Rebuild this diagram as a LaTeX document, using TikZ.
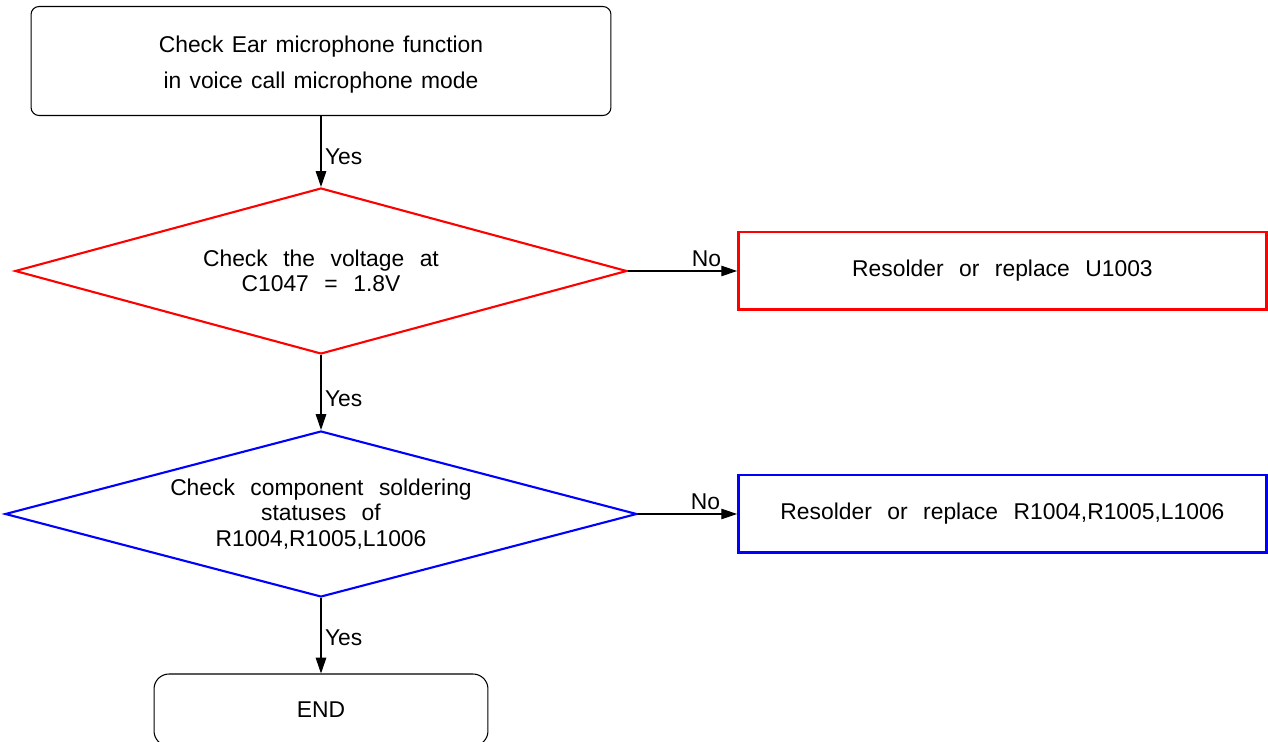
\documentclass[tikz,border=0pt]{standalone}
\usepackage{fontspec}
\setmainfont{Liberation Sans}
\usetikzlibrary{shapes.geometric, arrows.meta, positioning}
\newcommand{\wordgap}{\spaceskip=0.68em plus 0.1em\relax}
\newcommand{\narrowgap}{\spaceskip=0.36em plus 0.1em\relax}

\begin{document}
\begin{tikzpicture}[
        x=0.02cm, y=-0.02cm,
        txt/.style={font=\fontsize{13}{14.5}\selectfont, align=center, execute at begin node=\wordgap},
        startbox/.style={txt, rectangle, draw=black, line width=0.6pt, rounded corners=0.16cm, minimum width=11.6cm, minimum height=2.18cm, execute at begin node=\narrowgap},
        endbox/.style={txt, rectangle, draw=black, line width=0.6pt, rounded corners=0.3cm, minimum width=6.68cm, minimum height=1.44cm},
        checkbox/.style={txt, diamond, aspect=3.7, inner sep=0pt, line width=1.2pt, minimum height=3.32cm},
        fixbox/.style={txt, rectangle, line width=1.7pt, minimum width=10.56cm, minimum height=1.56cm},
        arrow/.style={-{Triangle[length=9pt, width=6pt]}, line width=0.6pt, draw=black},
        yeslabel/.style={txt, right, pos=0.58, inner sep=2pt},
        nolabel/.style={txt, above, pos=0.72, inner sep=2pt}
    ]
    \useasboundingbox (0,0) rectangle (1268,742);

    % The Check Boxes
    \node (start) [startbox] at (321,61) {\rule{0pt}{14pt}Check Ear microphone function\\[6pt] in voice call microphone mode};
    \node (volt) [checkbox, draw=red, minimum width=12.24cm] at (321,271) {Check the voltage at\\ C1047 = 1.8V};
    \node (solder) [checkbox, draw=blue, minimum width=12.64cm] at (321,514) {Check component soldering\\ statuses of\\ R1004,R1005,L1006};
    \node (finish) [endbox] at (321,710) {END};

    % The Repair Boxes
    \node (fixu) [fixbox, draw=red] at (1002.5,271) {Resolder or replace U1003};
    \node (fixr) [fixbox, draw=blue] at (1002.5,514) {Resolder or replace R1004,R1005,L1006};

    % The Arrows
    \draw [arrow] (start) -- node[yeslabel] {Yes} (volt);
    \draw [arrow] (volt) -- node[yeslabel] {Yes} (solder);
    \draw [arrow] (solder) -- node[yeslabel, pos=0.53] {Yes} (finish);
    \draw [arrow] (volt) -- node[nolabel] {No} (fixu);
    \draw [arrow] (solder) -- node[nolabel, pos=0.68] {No} (fixr);

    \end{tikzpicture}
\end{document}
